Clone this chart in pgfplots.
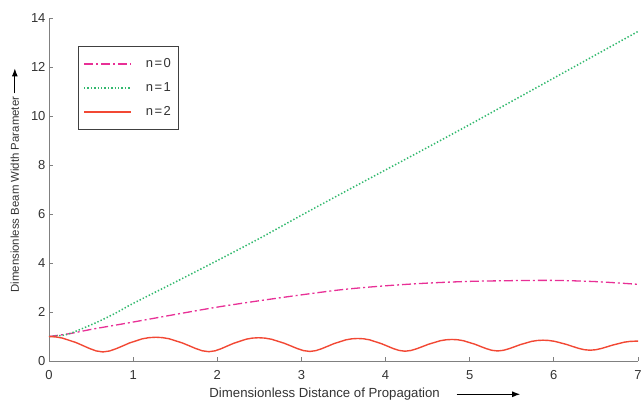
\documentclass[border=0pt]{standalone}
\usepackage{pgfplots}
\pgfplotsset{compat=1.18}
\usetikzlibrary{arrows.meta}
\usepackage{fontspec}
\setmainfont{Liberation Sans}
\definecolor{cMag}{RGB}{232,48,150}
\definecolor{cGrn}{RGB}{50,185,110}
\definecolor{cRed}{RGB}{242,72,52}
\definecolor{axgray}{RGB}{128,128,128}
\begin{document}
\begin{tikzpicture}
\begin{axis}[
  scale only axis, width=589pt, height=343pt,
  xmin=0, xmax=7, ymin=0, ymax=14,
  clip=false,
  axis x line*=bottom, axis y line*=left,
  axis line style={axgray, line width=0.8pt},
  tick style={axgray, line width=0.8pt},
  tick align=inside, major tick length=4pt,
  xtick={0,1,...,7}, ytick={0,2,...,14},
  /pgf/number format/assume math mode=true,
  ticklabel style={font=\fontsize{13}{13}\selectfont, text=black!80},
  xticklabel style={yshift=-6pt},
  xlabel={Dimensionless Distance of Propagation},
  ylabel={Dimensionless Beam Width Parameter},
  xlabel style={at={(rel axis cs:0.468,-0.097)}, anchor=center, font=\fontsize{13.2}{14}\selectfont, text=black!80},
  ylabel style={at={(rel axis cs:-0.058,0.485)}, anchor=center, font=\fontsize{11.4}{12}\selectfont, text=black!80},
  legend style={at={(rel axis cs:0.049,0.918)}, anchor=north west, draw=black!75, line width=0.9pt,
    font=\fontsize{13}{13}\selectfont, inner xsep=5pt, inner ysep=10pt, row sep=9.5pt, text=black!80,
    nodes={inner xsep=3pt}},
  legend cell align=left,
  legend image code/.code={\draw[#1] (2pt,0pt) -- (49pt,0pt); \path (60pt,0pt);},
]
\addplot[cMag, line width=1.3pt, dash pattern=on 9pt off 3pt on 2pt off 3pt, smooth] coordinates {
(0,1.0) (0.25,1.12) (0.5,1.29) (0.75,1.44) (1,1.59) (1.5,1.9) (2,2.2) (2.5,2.46) (3,2.7)
(3.5,2.92) (4,3.07) (4.5,3.18) (5,3.25) (5.5,3.28) (6,3.29) (6.5,3.24) (7,3.13)};
\addlegendentry{n{\kern1.5pt}={\kern1.5pt}0}
\addplot[cGrn, line width=1.5pt, dash pattern=on 1.4pt off 2pt, smooth] coordinates {
(0,1.0) (0.2,1.07) (0.4,1.33) (0.6,1.63) (0.8,1.97) (1,2.35) (1.5,3.22) (2,4.1) (2.5,5.0)
(3,5.95) (3.5,6.88) (4,7.8) (4.5,8.72) (5,9.65) (5.5,10.6) (6,11.55) (6.5,12.5) (7,13.45)};
\addlegendentry{n{\kern1.5pt}={\kern1.5pt}1}
\addplot[cRed, line width=1.4pt] coordinates {
(0,1.0) (0.08,0.983) (0.16,0.935) (0.32,0.754) (0.40,0.635) (0.48,0.513) (0.56,0.412) (0.64,0.37)
(0.72,0.409) (0.80,0.505) (0.88,0.621) (0.955,0.734) (1.11,0.907) (1.19,0.954) (1.27,0.97)
(1.349,0.954) (1.4275,0.908) (1.585,0.737) (1.664,0.625) (1.7425,0.511) (1.821,0.418) (1.90,0.38)
(1.974,0.416) (2.048,0.505) (2.121,0.615) (2.195,0.723) (2.343,0.890) (2.416,0.935) (2.49,0.95)
(2.566,0.935) (2.6425,0.890) (2.795,0.726) (2.871,0.620) (2.9475,0.512) (3.024,0.425) (3.10,0.39)
(3.171,0.423) (3.2425,0.504) (3.314,0.605) (3.385,0.707) (3.5275,0.863) (3.599,0.906) (3.67,0.92)
(3.74,0.906) (3.81,0.864) (3.95,0.709) (4.02,0.610) (4.09,0.510) (4.16,0.432) (4.23,0.40)
(4.30,0.428) (4.37,0.5) (4.44,0.591) (4.51,0.684) (4.65,0.827) (4.72,0.867) (4.79,0.88)
(4.8575,0.867) (4.925,0.828) (5.06,0.687) (5.1275,0.596) (5.195,0.507) (5.2625,0.437) (5.33,0.41)
(5.3975,0.435) (5.465,0.499) (5.5325,0.582) (5.60,0.667) (5.735,0.801) (5.8025,0.837) (5.87,0.85)
(5.94,0.838) (6.01,0.803) (6.15,0.677) (6.22,0.597) (6.29,0.521) (6.36,0.462) (6.43,0.44)
(6.4975,0.460) (6.565,0.511) (6.6325,0.580) (6.70,0.652) (6.835,0.767) (6.9025,0.799) (6.97,0.81) (7,0.81)};
\addlegendentry{n{\kern1.5pt}={\kern1.5pt}2}
\draw[black, line width=1.1pt, -{Latex[length=8pt,width=6pt]}] (rel axis cs:0.692,-0.097) -- (rel axis cs:0.800,-0.097);
\draw[black, line width=1.1pt, -{Latex[length=8pt,width=6pt]}] (rel axis cs:-0.058,0.780) -- (rel axis cs:-0.058,0.853);
\coordinate (SW) at (rel axis cs:0,0);
\coordinate (NE) at (rel axis cs:1,1);
\end{axis}
\pgfresetboundingbox
\path[use as bounding box] ([xshift=-49pt,yshift=-41pt]SW) rectangle ([xshift=5pt,yshift=18pt]NE);
\end{tikzpicture}
\end{document}
